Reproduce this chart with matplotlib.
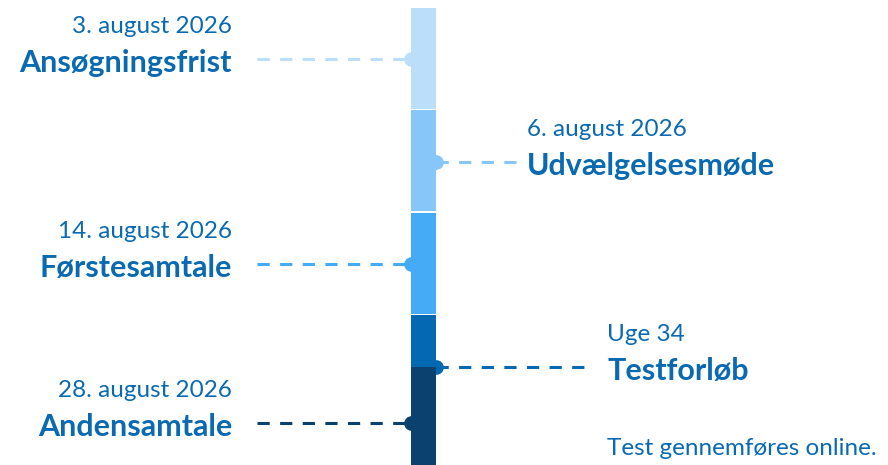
import matplotlib
matplotlib.use("Agg")
from matplotlib import pyplot as plt

plt.rcParams['font.family'] = ['Lato', 'DejaVu Sans']

# timeline data (y in "steps", 1 step per phase)
titles = ["Ansøgningsfrist", "Udvælgelsesmøde", "Førstesamtale", "Testforløb", "Andensamtale"]
dates = ["3. august 2026", "6. august 2026", "14. august 2026", "Uge 34", "28. august 2026"]
notes = ["", "", "", "Test gennemføres online.", ""]
starts = [0, 1, 2, 3, 3.5]
ends = [1, 2, 3, 4, 4.5]
points = [0.5, 1.5, 2.5, 3.5, 4.05]
sides = ["left", "right", "left", "right", "left"]
colors = ["#BBDEFB", "#86C6F8", "#45ABF6", "#0568B3", "#0B416F"]

text_color = "#0A6AB1"
bar_x = 423
bar_w = 25
# where the label sits / where the dashed line stops (pixels)
label_x = [232, 527, 232, 607, 232]
line_end = [257, 517, 257, 590, 257]

fig = plt.figure(figsize=(8.88, 4.65), dpi=100)
ax = fig.add_axes([0, 0, 1, 1])
ax.set_xlim(0, 888)
ax.set_ylim(457 / 102.5, -8 / 102.5)
ax.axis('off')

gap = 0.018
for i in range(len(titles)):
    ax.bar(bar_x, ends[i] - starts[i] - gap, bottom=starts[i], width=bar_w,
           color=colors[i], zorder=3 + i)

    if sides[i] == "left":
        px = bar_x - bar_w / 2
    else:
        px = bar_x + bar_w / 2
    x0, x1 = sorted([px, line_end[i]])
    ax.plot([x0, x1], [points[i], points[i]], color=colors[i], lw=2.2,
            linestyle=(0, (4, 3.4)), dash_capstyle='butt', zorder=2)
    ax.plot(px, points[i], 'o', color=colors[i], markersize=9.5, zorder=2)

    ha = "right" if sides[i] == "left" else "left"
    ax.annotate(dates[i], (label_x[i], points[i]), xytext=(0, 26),
                textcoords='offset pixels', ha=ha, va='baseline',
                fontsize=17.5, color=text_color)
    ax.annotate(titles[i], (label_x[i], points[i]), xytext=(0, -13),
                textcoords='offset pixels', ha=ha, va='baseline',
                fontsize=22, fontweight='bold', color=text_color)
    if notes[i]:
        ax.annotate(notes[i], (label_x[i], points[i]), xytext=(0, -88),
                    textcoords='offset pixels', ha=ha, va='baseline',
                    fontsize=17.5, color=text_color)

fig.savefig("out.png", dpi=100)
